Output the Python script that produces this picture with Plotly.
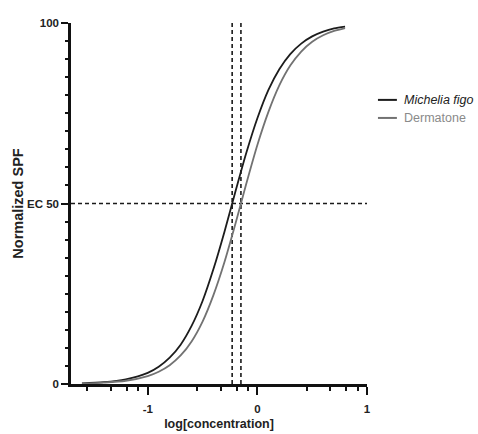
import plotly.graph_objects as go

# ---- data ----
series_names = ["Michelia figo", "Dermatone"]
log_conc = [-1.6, -1.4, -1.2, -1.0, -0.9, -0.8, -0.7, -0.6, -0.5, -0.4, -0.3,
            -0.2, -0.1, 0.0, 0.1, 0.2, 0.3, 0.4, 0.5, 0.6, 0.7, 0.8]
michelia_spf = [0.2, 0.5, 1.3, 3.1, 4.8, 7.3, 10.9, 16.1, 23.0, 31.9, 42.2,
                53.3, 64.1, 73.6, 81.4, 87.2, 91.4, 94.3, 96.3, 97.6, 98.5, 99.0]
dermatone_spf = [0.15, 0.4, 0.9, 2.2, 3.4, 5.2, 7.9, 11.8, 17.3, 24.7, 33.8,
                 44.4, 55.6, 66.2, 75.3, 82.7, 88.2, 92.1, 94.8, 96.6, 97.8, 98.6]
ec50_logs = [-0.23, -0.15]
ec50_level = 50
x_range = [-1.7, 1.0]
y_range = [0, 100]
x_tickvals = [-1, 0, 1]
x_ticktext = ["-1", "0", "1"]
x_minor_ticks = [-1.55, -1.335, -1.19, -1.085, -0.55, -0.335, -0.19, -0.085,
                 0.45, 0.665, 0.81, 0.915]
y_tickvals = [0, 50, 100]
y_ticktext = ["0", "EC 50", "100"]
y_minor_ticks = [5, 10, 15, 20, 25, 30, 35, 40, 45, 55, 60, 65, 70, 75, 80, 85, 90, 95]

colors = ["#1c1c1c", "#727272"]
legend_text_colors = ["#222222", "#8a8a8a"]
FONT = "Liberation Sans, Arial, sans-serif"
AX = "#111111"

fig = go.Figure()

# reference dashed lines
for xv in ec50_logs:
    fig.add_trace(go.Scatter(x=[xv, xv], y=y_range, mode="lines",
                             line=dict(color="#1a1a1a", width=1.6, dash="4px,3px"),
                             showlegend=False, hoverinfo="skip"))
fig.add_trace(go.Scatter(x=x_range, y=[ec50_level, ec50_level], mode="lines",
                         line=dict(color="#1a1a1a", width=1.6, dash="4px,3px"),
                         showlegend=False, hoverinfo="skip"))

for name, ys, c in zip(series_names, [michelia_spf, dermatone_spf], colors):
    fig.add_trace(go.Scatter(x=log_conc, y=ys, mode="lines", name=name,
                             showlegend=False,
                             line=dict(color=c, width=1.8, shape="spline", smoothing=0.8)))

# invisible anchor trace so the overlay (minor-tick) axes are drawn
fig.add_trace(go.Scatter(x=x_range, y=y_range, xaxis="x2", yaxis="y2",
                         mode="markers", marker=dict(opacity=0), showlegend=False,
                         hoverinfo="skip"))

# hand-drawn legend (short line keys like the reference)
legend_y = [0.787, 0.737]
for i, (name, c, tc) in enumerate(zip(series_names, colors, legend_text_colors)):
    fig.add_shape(type="line", xref="paper", yref="paper",
                  x0=1.037, x1=1.101, y0=legend_y[i], y1=legend_y[i],
                  line=dict(color=c, width=2))
    label = "<i>" + name + "</i>" if i == 0 else name
    fig.add_annotation(xref="paper", yref="paper", x=1.118, y=legend_y[i],
                       xanchor="left", yanchor="middle", showarrow=False,
                       text=label, font=dict(size=12.5, color=tc, family=FONT))

fig.update_layout(
    width=478, height=434,
    margin=dict(l=71, r=111, t=23, b=50, autoexpand=False),
    plot_bgcolor="white", paper_bgcolor="white",
    font=dict(family=FONT, color="#1a1a1a"),
    showlegend=False,
    xaxis=dict(
        range=x_range, showgrid=False, zeroline=False,
        showline=True, linecolor=AX, linewidth=2.5,
        tickmode="array", tickvals=x_tickvals, ticktext=x_ticktext,
        ticks="outside", ticklen=8, tickwidth=2, tickcolor=AX,
        tickfont=dict(size=11.5, weight="bold", color="#222"),
        ticklabelstandoff=4,
        title=dict(text="log[concentration]", standoff=6,
                   font=dict(size=12.5, weight="bold", color="#222")),
    ),
    yaxis=dict(
        range=y_range, showgrid=False, zeroline=False,
        showline=True, linecolor=AX, linewidth=2.5,
        tickmode="array", tickvals=y_tickvals, ticktext=y_ticktext,
        ticks="outside", ticklen=7, tickwidth=2, tickcolor=AX,
        tickfont=dict(size=11.5, weight="bold", color="#222"),
        ticklabelstandoff=0,
        title=dict(text="Normalized SPF", standoff=0,
                   font=dict(size=14.5, weight="bold", color="#222")),
    ),
    xaxis2=dict(overlaying="x", anchor="y", side="bottom", range=x_range,
                tickmode="array", tickvals=x_minor_ticks, showticklabels=False,
                ticks="outside", ticklen=6, tickwidth=2, tickcolor=AX,
                showgrid=False, zeroline=False, showline=False),
    yaxis2=dict(overlaying="y", anchor="x", side="left", range=y_range,
                tickmode="array", tickvals=y_minor_ticks, showticklabels=False,
                ticks="outside", ticklen=5, tickwidth=2, tickcolor=AX,
                showgrid=False, zeroline=False, showline=False),
)

fig.write_html(
    "out.html",
    config={"displayModeBar": False},
    post_script="document.body.style.margin='0';document.body.style.overflow='hidden';",
)
